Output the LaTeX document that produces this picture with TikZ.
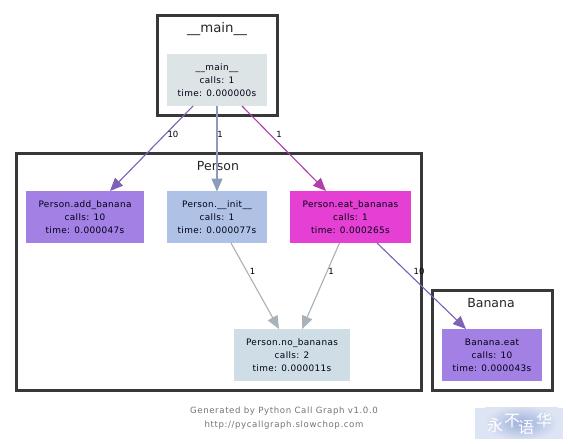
\documentclass[tikz,border=0pt]{standalone}
\usepackage{fontspec}
\setmainfont{DejaVu Sans}
\newfontfamily\nodefont[LetterSpace=4]{DejaVu Sans}
\newfontfamily\footfont[LetterSpace=7]{DejaVu Sans}
\newfontfamily\cjkf{Noto Sans CJK SC}
\usetikzlibrary{arrows.meta}
\definecolor{clusterc}{HTML}{383838}
\definecolor{cMain}{HTML}{DCE4E6}
\definecolor{cAdd}{HTML}{A380E3}
\definecolor{cInit}{HTML}{AFC2E6}
\definecolor{cEat}{HTML}{E63FD4}
\definecolor{cNo}{HTML}{CFDEE6}
\definecolor{ePurple}{HTML}{7E62B5}
\definecolor{eBlue}{HTML}{8A9DB8}
\definecolor{eMag}{HTML}{B03FA8}
\definecolor{eGrey}{HTML}{A9B2B8}
\definecolor{wmA}{HTML}{9DB0DA}
\definecolor{wmB}{HTML}{DDE4F4}
\tikzset{
  x=1pt,y=-1pt,
  cluster/.style={draw=clusterc,line width=3pt,fill=white},
  fn/.style={inner sep=0pt,minimum height=52pt,align=center,font=\nodefont\fontsize{8.9}{13}\selectfont,text=black!92!blue},
  ctitle/.style={font=\fontsize{12.5}{15}\selectfont,text=black!85},
  edge/.style={line width=1.1pt,-{Triangle[length=13pt,width=11pt]}},
  elabel/.style={font=\fontsize{8.5}{10}\selectfont,inner sep=0pt},
  foot/.style={font=\footfont\fontsize{8.6}{14}\selectfont,text=black!55,align=center,inner sep=0pt},
  wmglyph/.style={inner sep=0pt,text=white,font=\cjkf\fontsize{16}{16}\selectfont},
}
\begin{document}
\begin{tikzpicture}
\useasboundingbox (0,0) rectangle (568,444);
\fill[white] (0,0) rectangle (568,444);
% clusters
\draw[cluster] (157,16) rectangle (277,115);
\draw[cluster] (16,153.5) rectangle (421,390);
\draw[cluster] (432,290.5) rectangle (552.5,390);
\node[ctitle,font=\fontsize{13.3}{15}\selectfont] (tmain) at (217,29) {\_\_main\_\_};
\node[ctitle] (tperson) at (218,166) {Person};
\node[ctitle] (tbanana) at (491,303.5) {Banana};
% nodes
\node[fn,fill=cMain,minimum width=100pt] (main) at (217,80) {\_\_main\_\_\\calls: 1\\time: 0.000000s};
\node[fn,fill=cAdd,minimum width=118.5pt] (add) at (85,217) {Person.add\_banana\\calls: 10\\time: 0.000047s};
\node[fn,fill=cInit,minimum width=100pt] (init) at (217,217) {Person.\_\_init\_\_\\calls: 1\\time: 0.000077s};
\node[fn,fill=cEat,minimum width=121pt] (eat) at (350.5,217) {Person.eat\_bananas\\calls: 1\\time: 0.000265s};
\node[fn,fill=cNo,minimum width=116pt] (no) at (292,355) {Person.no\_bananas\\calls: 2\\time: 0.000011s};
\node[fn,fill=cAdd,minimum width=100pt] (beat) at (492,355) {Banana.eat\\calls: 10\\time: 0.000043s};
% anchors
\coordinate (m1) at (193,106);
\coordinate (a1) at (110,191);
\coordinate (m2) at (217,106);
\coordinate (i1) at (217,191.5);
\coordinate (m3) at (242,106);
\coordinate (e1) at (326,191);
\coordinate (i2) at (231,243);
\coordinate (n1) at (279,329);
\coordinate (e2) at (339.5,243);
\coordinate (n2) at (302,329);
\coordinate (e3) at (377,243);
\coordinate (b1) at (466,329);
% edges
\draw[edge,draw=ePurple,fill=ePurple] (m1) -- (a1);
\draw[edge,draw=eBlue,fill=eBlue] (m2) -- (i1);
\draw[edge,draw=eMag,fill=eMag] (m3) -- (e1);
\draw[edge,draw=eGrey,fill=eGrey] (i2) -- (n1);
\draw[edge,draw=eGrey,fill=eGrey] (e2) -- (n2);
\draw[edge,draw=ePurple,fill=ePurple] (e3) -- (b1);
% labels
\node[elabel] (l1) at (173,134.5) {10};
\node[elabel] (l2) at (220,134.5) {1};
\node[elabel] (l3) at (279,134.5) {1};
\node[elabel] (l4) at (252.5,271.5) {1};
\node[elabel] (l5) at (331,271.5) {1};
\node[elabel] (l6) at (419,271.5) {10};
% footer
\node[foot] (foot) at (284,418) {Generated by Python Call Graph v1.0.0\\http://pycallgraph.slowchop.com};
% watermark
\begin{scope}
\clip (475,407.5) rectangle (563,438.5);
\fill[wmB] (475,407.5) rectangle (563,438.5);
\shade[inner color=wmA,outer color=wmB] (485,405) rectangle (558,441);
\end{scope}
\node[wmglyph] (w1) at (495,425) {永};
\node[wmglyph] (w2) at (512,421) {不};
\node[wmglyph] (w3) at (526,428) {语};
\node[wmglyph] (w4) at (544,420) {华};
\end{tikzpicture}
\end{document}
